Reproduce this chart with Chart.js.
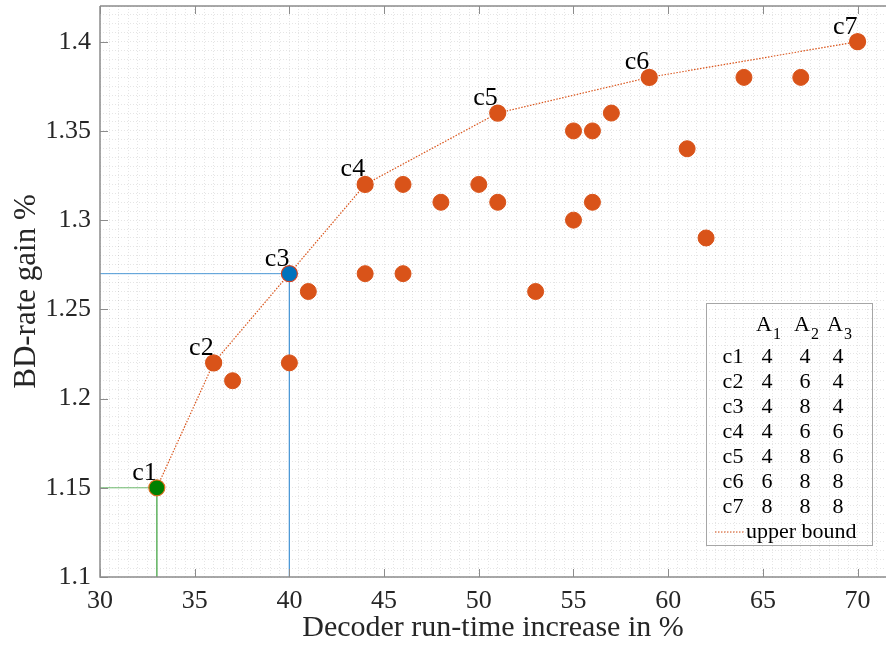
<!DOCTYPE html>
<html>
<head>
<meta charset="utf-8">
<script src="https://cdn.jsdelivr.net/npm/chart.js@4"></script>
<style>
  html, body { margin: 0; padding: 0; background: #fff; }
  #wrap { width: 886px; height: 648px; }
</style>
</head>
<body>
<div id="wrap"><canvas id="paretoChart" width="886" height="648"></canvas></div>
<script>
// configurations on the upper bound (c1..c7)
const cLabels = ['c1', 'c2', 'c3', 'c4', 'c5', 'c6', 'c7']
const cX = [33, 36, 40, 44, 51, 59, 70]
const cY = [1.15, 1.22, 1.27, 1.32, 1.36, 1.38, 1.40]

// remaining configurations
const otherX = [37, 40, 41, 44, 46, 46, 48, 50, 51, 53, 55, 55, 56, 56, 57, 61, 62, 64, 67]
const otherY = [1.21, 1.22, 1.26, 1.27, 1.32, 1.27, 1.31, 1.32, 1.31, 1.26, 1.35, 1.30, 1.35, 1.31, 1.36, 1.34, 1.29, 1.38, 1.38]

// guide lines to c3 (blue) and c1 (green)
const blueGuideX = [30, 40, 40]
const blueGuideY = [1.27, 1.27, 1.1]
const greenGuideX = [30, 33, 33]
const greenGuideY = [1.15, 1.15, 1.1]

// axis ticks
const xTickLabels = ['30', '35', '40', '45', '50', '55', '60', '65', '70']
const yTickLabels = ['1.1', '1.15', '1.2', '1.25', '1.3', '1.35', '1.4']

// table in the legend box
const tableHead = ['1', '2', '3']
const tableRows = [
  ['c1', 4, 4, 4],
  ['c2', 4, 6, 4],
  ['c3', 4, 8, 4],
  ['c4', 4, 6, 6],
  ['c5', 4, 8, 6],
  ['c6', 6, 8, 8],
  ['c7', 8, 8, 8]
]

const ORANGE = '#D95319'
const TEXT = '#262626'
const AXIS = '#8c8c8c'
const SERIF = "'Liberation Serif', 'Times New Roman', serif"

const toPts = (xs, ys) => xs.map((x, i) => ({ x: x, y: ys[i] }))

// minor ticks every 0.5 / 0.005, labels only on the majors
function minorTicks(min, max, step) {
  const n = Math.round((max - min) / step)
  const out = []
  for (let i = 0; i <= n; i++) out.push({ value: +(min + i * step).toFixed(4) })
  return out
}

// keep the plot area flush with the canvas edges
function noScalePadding(scale) {
  scale.paddingTop = 0
  scale.paddingBottom = 0
  scale.paddingLeft = 0
  scale.paddingRight = 0
}

// axes box, inward tick marks, point labels and the table legend
const decorations = {
  id: 'decorations',
  afterDatasetsDraw(chart) {
    const { ctx, chartArea: a, scales } = chart
    const xs = scales.x
    const ys = scales.y
    ctx.save()

    ctx.strokeStyle = AXIS
    ctx.lineWidth = 1.5
    ctx.beginPath()
    ctx.moveTo(a.left, a.top)
    ctx.lineTo(a.right, a.top)
    ctx.moveTo(a.left, a.top)
    ctx.lineTo(a.left, a.bottom)
    ctx.lineTo(a.right, a.bottom)
    ctx.stroke()

    ctx.lineWidth = 1
    ctx.beginPath()
    xTickLabels.forEach((t) => {
      const px = Math.round(xs.getPixelForValue(+t)) + 0.5
      ctx.moveTo(px, a.bottom)
      ctx.lineTo(px, a.bottom - 8)
      ctx.moveTo(px, a.top)
      ctx.lineTo(px, a.top + 8)
    })
    yTickLabels.forEach((t) => {
      const py = Math.round(ys.getPixelForValue(+t)) + 0.5
      ctx.moveTo(a.left, py)
      ctx.lineTo(a.left + 8, py)
    })
    ctx.stroke()

    // c1..c7 labels above-left of their points
    const meta = chart.getDatasetMeta(1)
    ctx.fillStyle = '#000'
    ctx.font = '26px ' + SERIF
    ctx.textAlign = 'right'
    ctx.textBaseline = 'alphabetic'
    meta.data.forEach((pt, i) => {
      ctx.fillText(cLabels[i], pt.x, pt.y - 8)
    })

    // legend box with the parameter table
    const bx = 706.5, by = 303.5, bw = 166, bh = 242
    ctx.strokeStyle = '#a6a6a6'
    ctx.lineWidth = 1
    ctx.strokeRect(bx, by, bw, bh)

    const colX = [733, 767, 805, 838]
    ctx.fillStyle = '#000'
    ctx.textAlign = 'center'
    tableHead.forEach((s, j) => {
      ctx.font = '22px ' + SERIF
      ctx.textBaseline = 'alphabetic'
      ctx.fillText('A', colX[j + 1] - 3, 331)
      ctx.font = '16px ' + SERIF
      ctx.fillText(s, colX[j + 1] + 10, 339)
    })
    ctx.font = '22px ' + SERIF
    ctx.textBaseline = 'middle'
    tableRows.forEach((row, i) => {
      const ry = 357 + i * 25
      row.forEach((cell, j) => {
        ctx.fillText(String(cell), colX[j], ry)
      })
    })
    const ly = 532
    ctx.strokeStyle = ORANGE
    ctx.lineWidth = 1.2
    ctx.setLineDash([1.5, 1.5])
    ctx.beginPath()
    ctx.moveTo(715, ly)
    ctx.lineTo(745, ly)
    ctx.stroke()
    ctx.setLineDash([])
    ctx.textAlign = 'left'
    ctx.fillText('upper bound', 746, ly)

    ctx.restore()
  }
}

const ctx = document.getElementById('paretoChart')

new Chart(ctx, {
  type: 'scatter',
  data: {
    datasets: [
      {
        label: 'configurations',
        data: toPts(otherX, otherY),
        backgroundColor: ORANGE,
        borderColor: ORANGE,
        pointRadius: 8,
        pointBorderWidth: 1,
        order: 0
      },
      {
        label: 'upper bound',
        data: toPts(cX, cY),
        showLine: true,
        borderColor: ORANGE,
        borderWidth: 1.2,
        borderDash: [1.5, 1.5],
        pointRadius: 8,
        pointBorderWidth: 1.2,
        pointBackgroundColor: [ '#008000', ORANGE, '#0072BD', ORANGE, ORANGE, ORANGE, ORANGE ],
        pointBorderColor: [ '#E07020', ORANGE, '#D04020', ORANGE, ORANGE, ORANGE, ORANGE ],
        order: 0
      },
      {
        label: 'c3 guide',
        data: toPts(blueGuideX, blueGuideY),
        showLine: true,
        borderColor: '#4e9ad6',
        borderWidth: 1,
        pointRadius: 0,
        order: 2
      },
      {
        label: 'c1 guide',
        data: toPts(greenGuideX, greenGuideY),
        showLine: true,
        borderColor: '#6cb86c',
        borderWidth: 1,
        pointRadius: 0,
        order: 2
      }
    ]
  },
  options: {
    responsive: false,
    animation: false,
    events: [],
    layout: {
      padding: { top: 6, right: 0, bottom: 0, left: 0 },
      autoPadding: false
    },
    plugins: {
      legend: { display: false },
      tooltip: { enabled: false }
    },
    scales: {
      x: {
        type: 'linear',
        min: 30,
        max: 71.5,
        afterBuildTicks: function (scale) {
          scale.ticks = minorTicks(30, 71.5, 0.5)
        },
        afterFit: function (scale) {
          scale.height = 71
          noScalePadding(scale)
        },
        border: { display: false, dash: [1, 2] },
        grid: {
          color: 'rgba(0, 0, 0, 0.10)',
          lineWidth: 1,
          drawTicks: false
        },
        ticks: {
          autoSkip: false,
          maxRotation: 0,
          padding: 9,
          color: TEXT,
          font: { family: SERIF, size: 26 },
          callback: function (value, index) {
            return index % 10 === 0 ? xTickLabels[index / 10] : ''
          }
        },
        title: {
          display: true,
          text: 'Decoder run-time increase in %',
          color: TEXT,
          font: { family: SERIF, size: 30 },
          padding: { top: 0, bottom: 2 }
        }
      },
      y: {
        type: 'linear',
        min: 1.1,
        max: 1.42,
        afterBuildTicks: function (scale) {
          scale.ticks = minorTicks(1.1, 1.42, 0.005)
        },
        afterFit: function (scale) {
          scale.width = 100
          noScalePadding(scale)
        },
        border: { display: false, dash: [1, 2] },
        grid: {
          color: 'rgba(0, 0, 0, 0.10)',
          lineWidth: 1,
          drawTicks: false
        },
        ticks: {
          autoSkip: false,
          padding: 9,
          color: TEXT,
          font: { family: SERIF, size: 26 },
          callback: function (value, index) {
            return index % 10 === 0 ? yTickLabels[index / 10] : ''
          }
        },
        title: {
          display: true,
          text: 'BD-rate gain %',
          color: TEXT,
          font: { family: SERIF, size: 31 },
          padding: { top: 8, bottom: 0 }
        }
      }
    }
  },
  plugins: [decorations]
})
</script>
</body>
</html>
